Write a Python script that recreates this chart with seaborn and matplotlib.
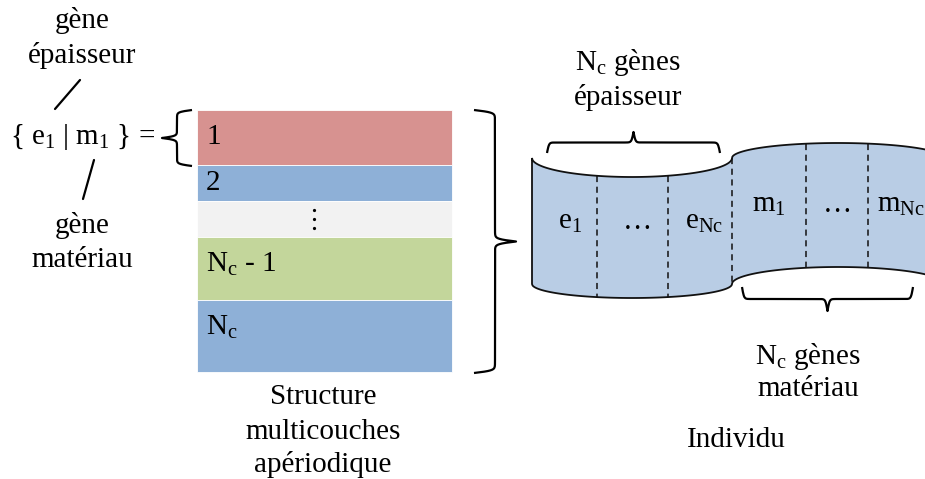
import numpy as np
import matplotlib
matplotlib.use("Agg")
import matplotlib.pyplot as plt
import seaborn as sns

# couches de la structure multicouches (epaisseur en pixels du dessin)
layer_labels = ["1", "2", "", r"N$_\mathrm{c}$ - 1", r"N$_\mathrm{c}$"]
layer_thickness = [55, 36, 36, 63, 72]
layer_colors = ["#D79290", "#8EB0D7", "#F2F2F2", "#C3D69B", "#8EB0D7"]

# genes de l'individu
e_genes = [r"e$_1$", "…", r"e$_\mathrm{Nc}$"]
m_genes = [r"m$_1$", "…", r"m$_\mathrm{Nc}$"]

sns.set_theme(style="white")
plt.rcParams["font.family"] = ["Liberation Serif", "DejaVu Serif"]
plt.rcParams["text.color"] = "black"
plt.rcParams["mathtext.fontset"] = "custom"
plt.rcParams["mathtext.rm"] = "Liberation Serif"
plt.rcParams["mathtext.it"] = "Liberation Serif"
plt.rcParams["mathtext.default"] = "rm"

FS = 21

fig = plt.figure(figsize=(9.25, 4.79), dpi=100)
ax = fig.add_axes([0, 0, 1, 1])
ax.set_xlim(0, 925)
ax.set_ylim(479, 0)
ax.axis("off")


def brace(ax, p0, p1, depth, beta=1.0):
    # accolade entre p0 et p1, pointe du cote "depth" (normale a gauche)
    p0 = np.array(p0, float)
    p1 = np.array(p1, float)
    L = np.linalg.norm(p1 - p0)
    u = (p1 - p0) / L
    n = np.array([-u[1], u[0]])
    xh = np.linspace(0, L / 2, 200)
    yh = 1 / (1 + np.exp(-beta * (xh - xh[0]))) + 1 / (1 + np.exp(-beta * (xh - xh[-1])))
    yh = yh - yh[0]
    yh = yh / yh[-1]
    t = np.concatenate([xh, L - xh[::-1]])
    off = np.concatenate([yh, yh[::-1]]) * depth
    pts = p0[None, :] + t[:, None] * u[None, :] + off[:, None] * n[None, :]
    ax.plot(pts[:, 0], pts[:, 1], color="black", lw=1.6, solid_capstyle="butt")


# --- structure multicouches ---
x0, width = 197, 255
bottoms = np.concatenate([[110], 110 + np.cumsum(layer_thickness)[:-1]])
ax.bar([x0] * len(layer_thickness), layer_thickness, bottom=bottoms, width=width,
       align="edge", color=layer_colors, edgecolor="white", linewidth=0.6)
for lab, b, h in zip(layer_labels, bottoms, layer_thickness):
    if lab:
        yy = b + 27 if h > 50 else b + h / 2
        ax.text(x0 + 9, yy, lab, fontsize=FS, ha="left", va="center")
# points de suspension verticaux
gray_mid = bottoms[2] + layer_thickness[2] / 2
ax.plot([314, 314, 314], [gray_mid - 9, gray_mid, gray_mid + 9], "o", color="black", ms=1.3)

ax.text(323, 397, "Structure", fontsize=FS, ha="center", va="center")
ax.text(323, 432, "multicouches", fontsize=FS, ha="center", va="center")
ax.text(323, 465, "apériodique", fontsize=FS, ha="center", va="center")

# --- partie gauche ---
ax.text(82, 20, "gène", fontsize=FS, ha="center", va="center")
ax.text(82, 55, "épaisseur", fontsize=FS, ha="center", va="center")
ax.text(82, 225, "gène", fontsize=FS, ha="center", va="center")
ax.text(82, 260, "matériau", fontsize=FS, ha="center", va="center")
ax.text(10, 137, r"{ e$_1$ | m$_1$ } =", fontsize=FS, ha="left", va="center")
ax.plot([80, 55], [80, 109], color="black", lw=1.6)
ax.plot([94, 83], [160, 199], color="black", lw=1.6)

brace(ax, (192, 110), (192, 166), 30)
brace(ax, (474, 373), (474, 110), 42, beta=0.8)

# --- individu (ruban) ---
def top_edge(x):
    x = np.asarray(x, float)
    left = 158 + 19 * np.sqrt(np.clip(1 - ((x - 632) / 100) ** 2, 0, 1))
    right = 158 - 15 * np.sqrt(np.clip(1 - ((x - 838) / 106) ** 2, 0, 1))
    return np.where(x <= 732, left, right)


def bottom_edge(x):
    x = np.asarray(x, float)
    left = 284 + 14 * np.sqrt(np.clip(1 - ((x - 632) / 100) ** 2, 0, 1))
    right = 284 - 17 * np.sqrt(np.clip(1 - ((x - 838) / 106) ** 2, 0, 1))
    return np.where(x <= 732, left, right)


xs = np.linspace(532, 960, 800)
poly_x = np.concatenate([xs, xs[::-1]])
poly_y = np.concatenate([top_edge(xs), bottom_edge(xs[::-1])])
ax.fill(poly_x, poly_y, facecolor="#B9CDE5", edgecolor="#111111", lw=1.3, zorder=2)

for xd in [597, 668, 732, 806, 868]:
    ax.plot([xd, xd], [top_edge(xd), bottom_edge(xd)], color="#111111", lw=1.1,
            ls=(0, (4, 3)), zorder=3)

for lab, xc in zip(e_genes, [570, 637, 704]):
    ax.text(xc, 222, lab, fontsize=FS, ha="center", va="center", zorder=4)
for lab, xc in zip(m_genes, [769, 837, 901]):
    ax.text(xc, 205, lab, fontsize=FS, ha="center", va="center", zorder=4)

brace(ax, (720, 153), (547, 153), 21)
brace(ax, (742, 287), (913, 287), 24)

ax.text(628, 62, r"N$_\mathrm{c}$ gènes", fontsize=FS, ha="center", va="center")
ax.text(628, 97, "épaisseur", fontsize=FS, ha="center", va="center")
ax.text(808, 357, r"N$_\mathrm{c}$ gènes", fontsize=FS, ha="center", va="center")
ax.text(808, 389, "matériau", fontsize=FS, ha="center", va="center")
ax.text(736, 440, "Individu", fontsize=FS, ha="center", va="center")

fig.savefig("out.png", dpi=100)
